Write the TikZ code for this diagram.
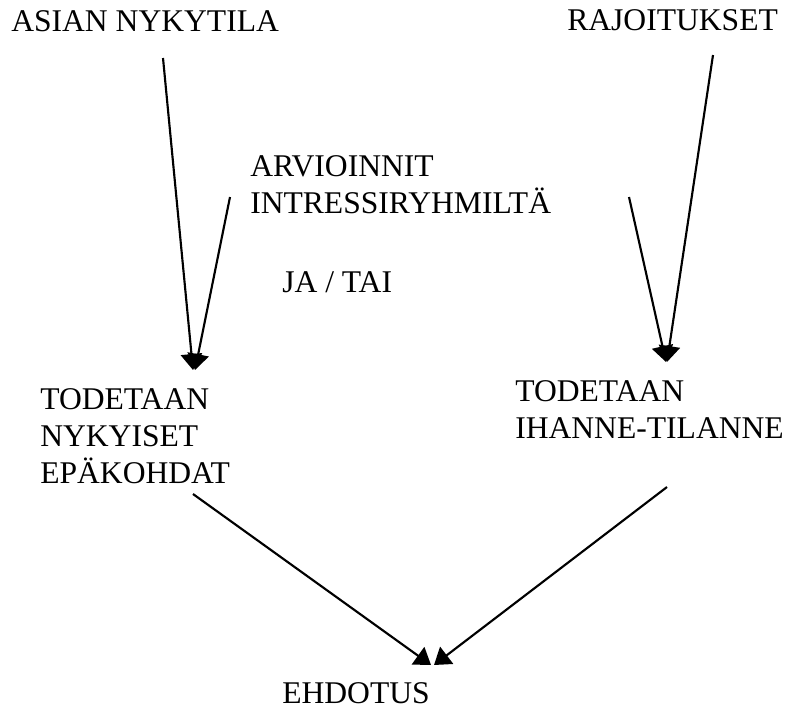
\documentclass[tikz,border=0pt]{standalone}
\usepackage{fontspec}
\setmainfont{Liberation Serif}
\usetikzlibrary{arrows.meta}

\tikzset{
  lbl/.style={font=\fontsize{23.7}{27.5}\selectfont, inner sep=0pt, anchor=base west, align=left},
  arr/.style={line width=1.6pt, -{Triangle[length=12pt,width=16pt]}}
}

\begin{document}
\begin{tikzpicture}[x=0.75pt,y=-0.75pt]
% Page frame
\useasboundingbox (0,0) rectangle (788,708);

% Texts (base = last line)
\node[lbl] (nykytila) at (11,31) {ASIAN NYKYTILA};
\node[lbl] (rajoitukset) at (567,30) {RAJOITUKSET};
\node[lbl] (arvioinnit) at (250,213) {ARVIOINNIT\\INTRESSIRYHMILTÄ};
\node[lbl] (jatai) at (282,292) {JA / TAI};
\node[lbl] (epakohdat) at (40,483) {TODETAAN\\NYKYISET\\EPÄKOHDAT};
\node[lbl] (ihanne) at (515,438) {TODETAAN\\IHANNE-TILANNE};
\node[lbl] (ehdotus) at (282,703) {EHDOTUS};

% Free ends of the arrows
\coordinate (nykStart) at (163,58);
\coordinate (nykTip) at (193,370);
\coordinate (arvStart) at (230,197);
\coordinate (arvTip) at (195,370);
\coordinate (rajStart) at (713,55);
\coordinate (rajTip) at (667,362);
\coordinate (ihaStart) at (629,197);
\coordinate (ihaTip) at (666,362);
\coordinate (epaStart) at (193,494);
\coordinate (epaTip) at (431,665);
\coordinate (tilStart) at (667,487);
\coordinate (tilTip) at (434,665);

% Arrows
\draw[arr] (nykStart) -- (nykTip);
\draw[arr] (arvStart) -- (arvTip);
\draw[arr] (rajStart) -- (rajTip);
\draw[arr] (ihaStart) -- (ihaTip);
\draw[arr] (epaStart) -- (epaTip);
\draw[arr] (tilStart) -- (tilTip);
\end{tikzpicture}
\end{document}
